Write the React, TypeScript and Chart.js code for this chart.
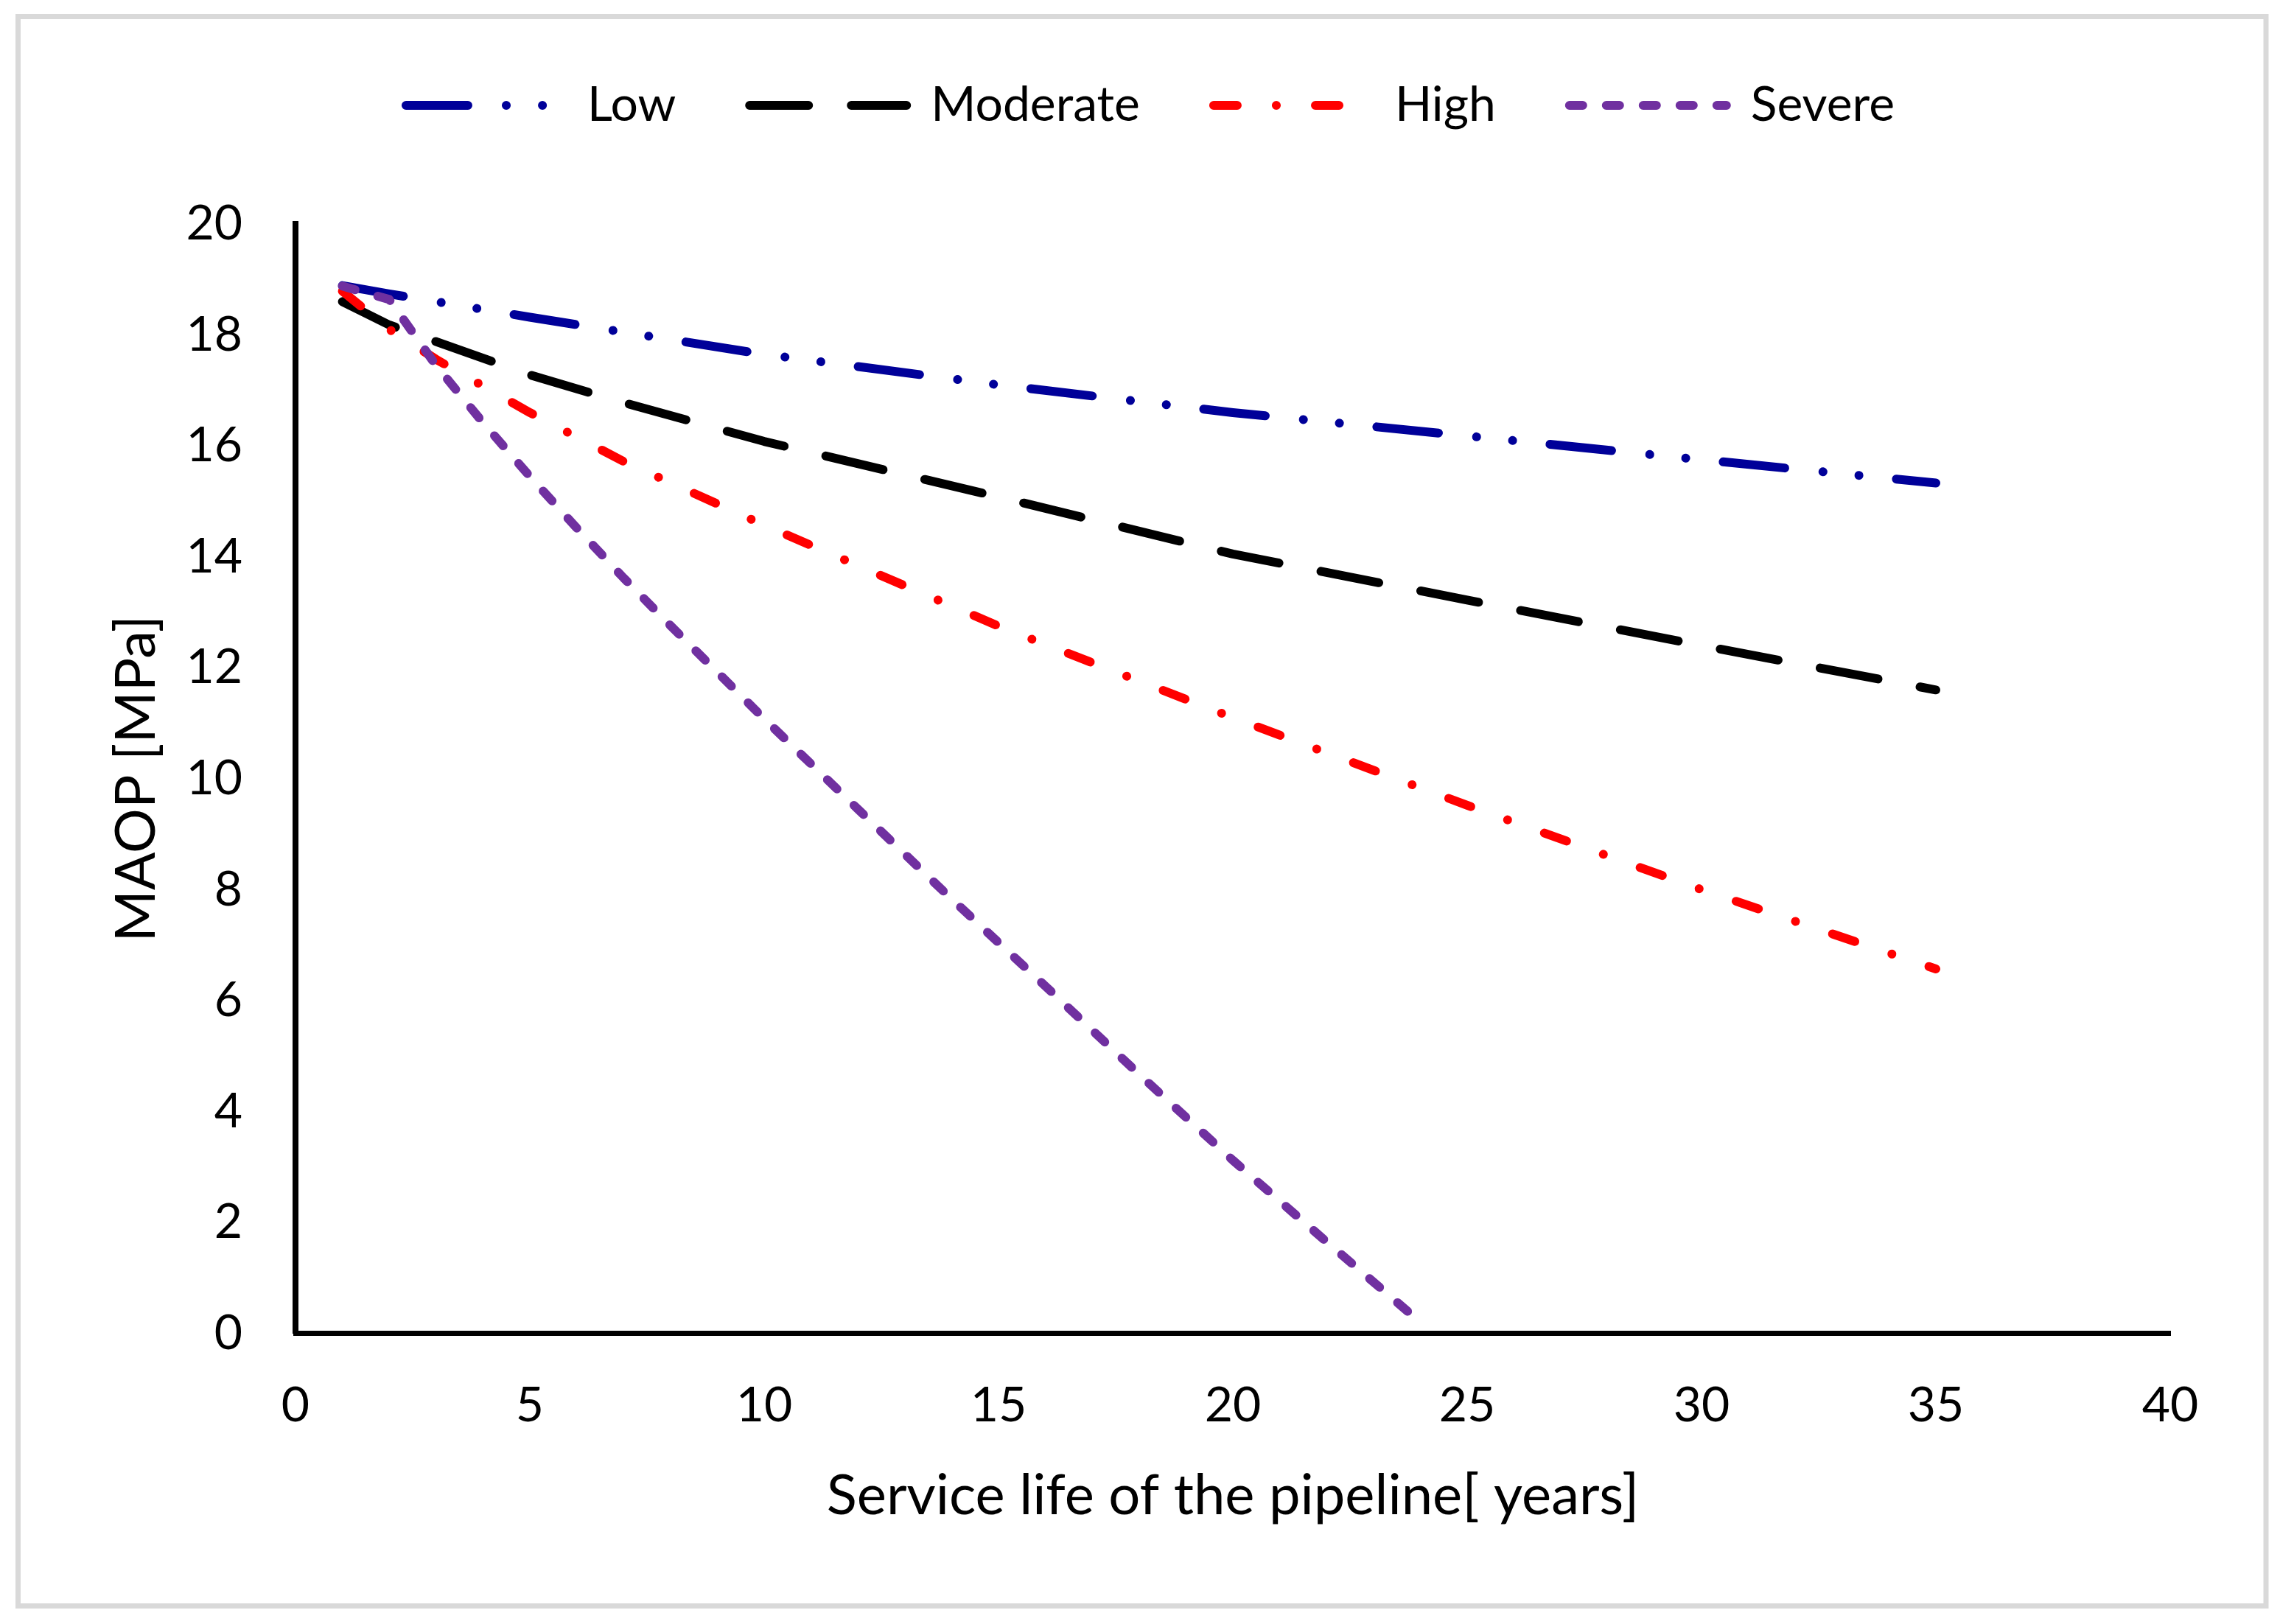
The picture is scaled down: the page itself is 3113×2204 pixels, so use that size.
import React, { useEffect, useRef } from 'react';
import { Chart, registerables } from 'chart.js';

Chart.register(...registerables);

// ---- data ----
const seriesNames = ['Low', 'Moderate', 'High', 'Severe'];
const seriesColors = ['#000099', '#000000', '#FF0000', '#7030A0'];

const yearsMain = [1, 2, 3, 5, 7, 10, 15, 20, 25, 30, 35];
const lowValues = [18.89, 18.74, 18.6, 18.32, 18.05, 17.65, 17.1, 16.6, 16.18, 15.75, 15.33];
const moderateValues = [18.6, 18.18, 17.88, 17.28, 16.78, 16.08, 15.08, 14.05, 13.22, 12.4, 11.6];
const highValues = [18.79, 18.1, 17.56, 16.6, 15.72, 14.57, 12.75, 11.1, 9.52, 8.0, 6.57];

const yearsSevere = [1, 2, 3, 4, 5, 6, 7, 8, 10, 12, 14, 16, 18, 20, 22, 24];
const severeValues = [18.88, 18.64, 17.45, 16.42, 15.45, 14.52, 13.62, 12.76, 11.08, 9.45, 7.83, 6.26, 4.67, 3.12, 1.65, 0.2];

const xMin = 0;
const xMax = 40;
const xStep = 5;
const yMin = 0;
const yMax = 20;
const yStep = 2;

const xTitle = 'Service life of the pipeline[ years]';
const yTitle = 'MAOP [MPa]';

// ---- styles ----
const FONT = 'Lato, "Open Sans", sans-serif';
const LINE_W = 12;
const dashes: number[][] = [
  [84, 52, 0.1, 49, 0.1, 51],
  [80, 58],
  [32, 53, 0.1, 53],
  [18, 32],
];

const toPoints = (xs: number[], ys: number[]) => xs.map((x, i) => ({ x, y: ys[i] }));

const frame = {
  id: 'frame',
  beforeDraw(chart: any) {
    const { ctx } = chart;
    ctx.save();
    ctx.fillStyle = '#ffffff';
    ctx.fillRect(0, 0, chart.width, chart.height);
    ctx.strokeStyle = '#d9d9d9';
    ctx.lineWidth = 7;
    ctx.strokeRect(24.5, 22.5, 3050.5, 2157);
    ctx.restore();
  },
};

export default function App() {
  const ref = useRef<HTMLCanvasElement | null>(null);

  useEffect(() => {
    if (!ref.current) return;
    const seriesData = [
      toPoints(yearsMain, lowValues),
      toPoints(yearsMain, moderateValues),
      toPoints(yearsMain, highValues),
      toPoints(yearsSevere, severeValues),
    ];
    const datasets = seriesNames.map((name, i) => ({
      label: name,
      data: seriesData[i],
      borderColor: seriesColors[i],
      backgroundColor: seriesColors[i],
      borderWidth: LINE_W,
      borderDash: dashes[i],
      borderCapStyle: 'round' as const,
      borderJoinStyle: 'round' as const,
      pointRadius: 0,
      pointHoverRadius: 0,
      tension: 0,
      fill: false,
      order: seriesNames.length - i,
    }));

    const chart = new Chart(ref.current, {
      type: 'line',
      data: { datasets },
      plugins: [frame],
      options: {
        responsive: true,
        maintainAspectRatio: false,
        animation: false,
        events: [],
        layout: { padding: { left: 177, right: 168, top: 10, bottom: 135 } },
        plugins: {
          tooltip: { enabled: false },
          legend: {
            display: true,
            position: 'top',
            align: 'center',
            labels: {
              usePointStyle: true,
              pointStyle: 'line',
              pointStyleWidth: 213,
              padding: 100,
              color: '#000000',
              font: { family: FONT, size: 66 },
              generateLabels: (c: any) =>
                c.data.datasets.map((ds: any, i: number) => ({
                  text: ds.label,
                  fillStyle: ds.borderColor,
                  strokeStyle: ds.borderColor,
                  lineWidth: ds.borderWidth,
                  lineDash: ds.borderDash,
                  lineCap: 'round',
                  lineJoin: 'round',
                  pointStyle: 'line',
                  hidden: false,
                  fontColor: '#000000',
                  datasetIndex: i,
                })),
            },
          },
          subtitle: {
            display: true,
            text: '',
            position: 'top',
            weight: 500,
            font: { size: 1, lineHeight: 1 },
            padding: { top: 117, bottom: 0 },
          },
        },
        scales: {
          x: {
            type: 'linear',
            min: xMin,
            max: xMax,
            ticks: {
              stepSize: xStep,
              padding: 59,
              color: '#000000',
              font: { family: FONT, size: 66, lineHeight: 1.2 },
            },
            grid: { display: false, drawTicks: false },
            border: { display: true, color: '#000000', width: 7 },
            title: {
              display: true,
              text: xTitle,
              color: '#000000',
              font: { family: FONT, size: 76, lineHeight: 1 },
              padding: { top: 0, bottom: 1 },
            },
            afterFit: (s: any) => {
              s.height = 259.5;
            },
          },
          y: {
            type: 'linear',
            min: yMin,
            max: yMax,
            ticks: {
              stepSize: yStep,
              padding: 72,
              color: '#000000',
              font: { family: FONT, size: 66, lineHeight: 1.2 },
            },
            grid: { display: false, drawTicks: false },
            border: { display: true, color: '#000000', width: 8 },
            title: {
              display: true,
              text: yTitle,
              color: '#000000',
              font: { family: FONT, size: 76, lineHeight: 1 },
              padding: { top: -30, bottom: 0 },
            },
            afterFit: (s: any) => {
              s.width = 224;
            },
          },
        },
      } as any,
    });
    return () => chart.destroy();
  }, []);

  return (
    <div style={{ position: 'fixed', left: 0, top: 0, width: 3113, height: 2204, background: '#ffffff' }}>
      <canvas ref={ref} />
    </div>
  );
}
